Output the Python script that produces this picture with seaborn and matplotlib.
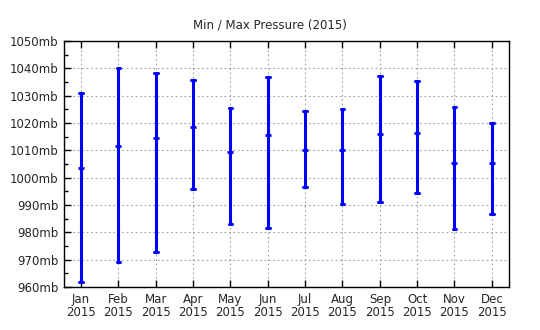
import matplotlib
matplotlib.use("Agg")
import matplotlib.pyplot as plt
from matplotlib.ticker import MultipleLocator, FuncFormatter
import seaborn as sns
import pandas as pd

months = ["Jan", "Feb", "Mar", "Apr", "May", "Jun", "Jul", "Aug", "Sep", "Oct", "Nov", "Dec"]
tick_labels = [f"{m}\n2015" for m in months]
p_max = [1030.8, 1040.2, 1038.4, 1035.8, 1025.6, 1037.0, 1024.5, 1025.2, 1037.3, 1035.4, 1025.9, 1020.1]
p_mid = [1003.7, 1011.6, 1014.6, 1018.7, 1009.5, 1015.6, 1010.1, 1010.1, 1016.1, 1016.5, 1005.5, 1005.5]
p_min = [961.7, 969.3, 972.9, 996.0, 983.2, 981.6, 996.7, 990.4, 991.1, 994.5, 981.2, 986.8]

rows = []
for m, lo, mid, hi in zip(months, p_min, p_mid, p_max):
    for v in (lo, mid, hi):
        rows.append({"month": m, "pressure": v})
df = pd.DataFrame(rows)

sns.set_style("white")
plt.rcParams["font.family"] = ["DejaVu Sans"]

fig = plt.figure(figsize=(5.4, 3.3), dpi=100)
ax = fig.add_axes([0.1185, 0.1303, 0.8241, 0.7455])

sns.pointplot(data=df, x="month", y="pressure", order=months,
              estimator="median", errorbar=("pi", 100),
              linestyle="none", marker="_", markersize=4.5, markeredgewidth=2,
              color="#0000ff", capsize=0.09, err_kws={"linewidth": 2.2},
              ax=ax)

ax.set_ylim(960, 1050)
ax.set_xlim(-0.46, 11.46)
ax.yaxis.set_major_locator(MultipleLocator(10))
ax.yaxis.set_minor_locator(MultipleLocator(5))
ax.yaxis.set_major_formatter(FuncFormatter(lambda v, p: f"{int(v)}mb"))
ax.set_xticks(range(len(months)))
ax.set_xticklabels(tick_labels)
ax.set_xlabel("")
ax.set_ylabel("")

ax.grid(True, which="major", color="#a0a0a0", linestyle=(0, (1.5, 2.5)), linewidth=0.8)
ax.set_axisbelow(True)
for s in ax.spines.values():
    s.set_color("black")
    s.set_linewidth(1.0)

ax.tick_params(axis="x", which="major", direction="in", length=5, width=1,
               top=True, bottom=True, labelsize=8.5, pad=4, color="black")
ax.tick_params(axis="y", which="major", direction="in", length=5, width=1,
               left=True, right=False, labelsize=8.5, pad=4, color="black")
ax.tick_params(axis="y", which="minor", direction="in", length=3, width=1,
               left=True, right=False, color="black")
for lbl in ax.get_xticklabels():
    lbl.set_linespacing(1.05)

fig.suptitle("Min / Max Pressure (2015)", fontsize=8.5, y=0.945)

fig.savefig("out.png", dpi=100)
